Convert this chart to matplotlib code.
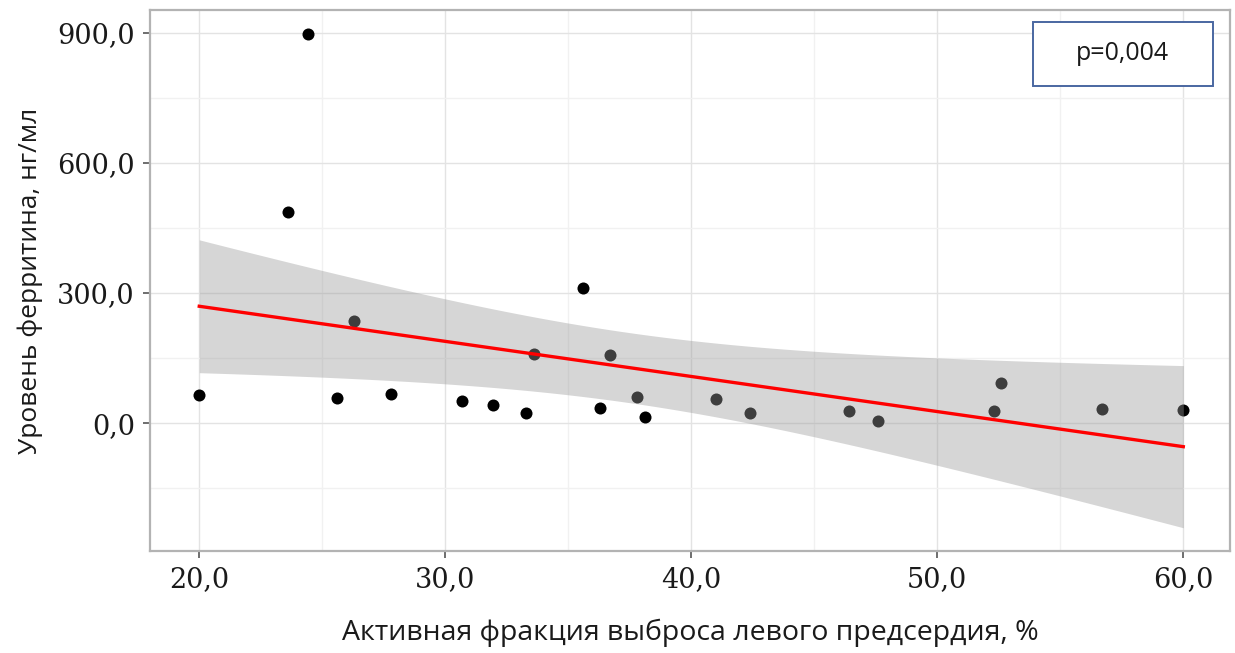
import numpy as np
import matplotlib.pyplot as plt
from matplotlib.patches import Rectangle

# data
lafe_active = [20.0, 23.6, 24.4, 25.6, 26.3, 27.8, 30.7, 31.95, 33.3, 33.6, 35.6, 36.3,
               36.7, 37.8, 38.1, 41.0, 42.4, 46.4, 47.6, 52.3, 52.6, 56.7, 60.0]
ferritin = [65, 487, 898, 58, 235, 67, 51, 42, 23, 159, 312, 35,
            157, 60, 14, 55, 23, 28, 5, 28, 92, 32, 30]

x_ticks = [20, 30, 40, 50, 60]
y_ticks = [0, 300, 600, 900]
p_label = 'p=0,004'

x = np.array(lafe_active)
y = np.array(ferritin)

# linear fit with 95% confidence band
slope, intercept = np.polyfit(x, y, 1)
n = len(x)
resid = y - (slope * x + intercept)
s_err = np.sqrt(np.sum(resid ** 2) / (n - 2))
t_crit = 2.080  # t(0.975, df=21)
xs = np.linspace(x.min(), x.max(), 200)
ys = slope * xs + intercept
ci = t_crit * s_err * np.sqrt(1 / n + (xs - x.mean()) ** 2 / np.sum((x - x.mean()) ** 2))

fig = plt.figure(figsize=(12.35, 6.53), dpi=100)
ax = fig.add_axes([0.1215, 0.156, 0.8745, 0.829])

ax.scatter(x, y, s=75, color='black', zorder=2, linewidths=0)
ax.fill_between(xs, ys - ci, ys + ci, color='#999999', alpha=0.4, linewidth=0, zorder=3)
ax.plot(xs, ys, color='red', linewidth=2.4, zorder=4)

ax.set_xlim(18.0, 61.9)
ax.set_ylim(-295, 953)
ax.set_xticks(x_ticks)
ax.set_yticks(y_ticks)
ax.set_xticks([25, 35, 45, 55], minor=True)
ax.set_yticks([-150, 150, 450, 750], minor=True)
ax.set_xticklabels([f'{v:.1f}'.replace('.', ',') for v in x_ticks])
ax.set_yticklabels([f'{v:.1f}'.replace('.', ',') for v in y_ticks])

ax.grid(True, which='major', color='#e3e3e3', linewidth=1.0, zorder=0)
ax.grid(True, which='minor', color='#f1f1f1', linewidth=1.0, zorder=0)
ax.set_axisbelow(True)

for sp in ax.spines.values():
    sp.set_color('#b3b3b3')
    sp.set_linewidth(1.6)

ax.tick_params(which='major', length=5, width=1.2, color='#555555',
               labelsize=19.5, pad=6)
ax.tick_params(which='minor', length=0)
for lab in ax.get_xticklabels() + ax.get_yticklabels():
    lab.set_fontfamily('DejaVu Serif')
    lab.set_color('#1a1a1a')

ax.set_xlabel('Активная фракция выброса левого предсердия, %', fontsize=20.5,
              fontfamily='Open Sans', color='#1a1a1a', labelpad=18)
ax.set_ylabel('Уровень ферритина, нг/мл', fontsize=19,
              fontfamily='Open Sans', color='#1a1a1a', labelpad=10)

ax.add_patch(Rectangle((0.8176, 0.8595), 0.1664, 0.1185, transform=ax.transAxes,
                       facecolor='white', edgecolor='#4a67a1', linewidth=1.4, zorder=5))
ax.text(0.9008, 0.9187, p_label, transform=ax.transAxes, ha='center', va='center',
        fontsize=18, fontfamily='Open Sans', color='#1a1a1a', zorder=6)

fig.savefig('out.png', dpi=100)
